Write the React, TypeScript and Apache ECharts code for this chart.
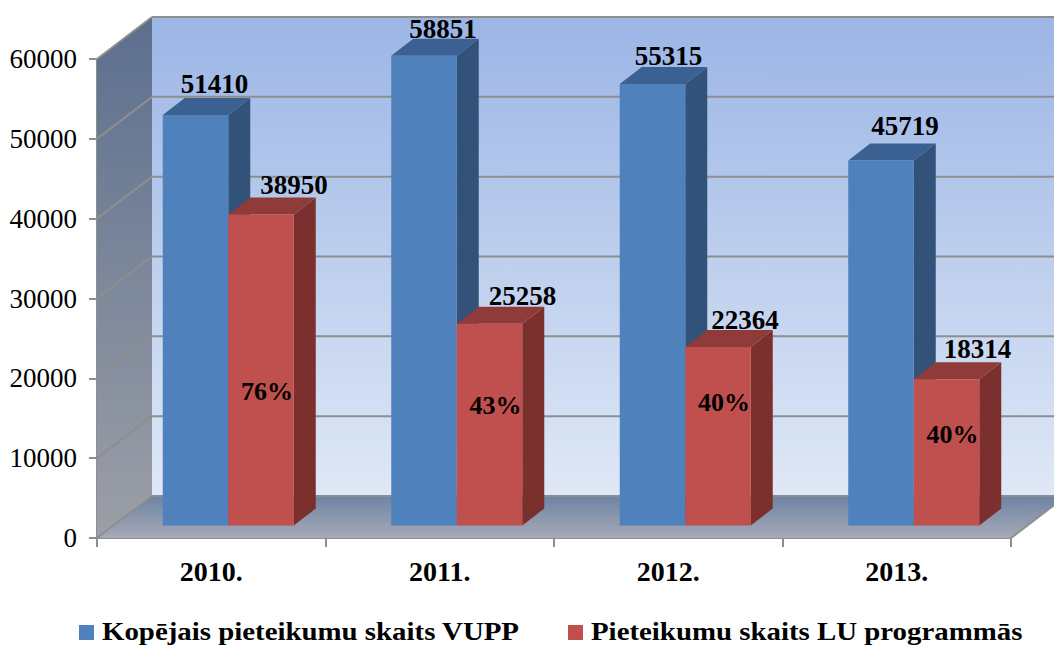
import React, { useEffect, useRef } from "react";
import * as echarts from "echarts";

const categories = ["2010.", "2011.", "2012.", "2013."];
const totalApplications = [51410, 58851, 55315, 45719];
const luApplications = [38950, 25258, 22364, 18314];
const shareLabels = ["76%", "43%", "40%", "40%"];
// Height (in axis units) at which each share label sits inside its bar.
const shareLabelLevels = [16750, 15000, 15375, 11375];
const yTicks = { min: 0, max: 60000, interval: 10000 };
const seriesNames = ["Kopējais pieteikumu skaits VUPP", "Pieteikumu skaits LU programmās"];

const WALL_DX = 55, WALL_DY = -42;
const BAR_DX = 22, BAR_DY = -17;
const FLOOR_DX = 17, FLOOR_DY = -12.5;
const BAR_FRAC = 0.2867;
const SERIF = "'Liberation Serif', serif";
const blue = { front: "#4F81BD", side: "#32527A", top: "#3B6192" };
const red = { front: "#C0504D", side: "#7C302E", top: "#8F3B39" };
const GRID_COLOR = "#8E8E8E";

// Hand-placed value labels in the reference: offset from the top-back of each bar.
const blueNudge = [[19, -14], [19, -10], [16, -11], [24, -18]];
const redNudge = [[33, -13], [33, -11], [27, -10], [31, -13]];

const vertical = (c0: string, c1: string) =>
  new echarts.graphic.LinearGradient(0, 0, 0, 1, [
    { offset: 0, color: c0 },
    { offset: 1, color: c1 },
  ]);

const poly = (points: number[][], fill: any, extra: any = {}) => ({
  type: "polygon",
  shape: { points },
  style: { fill, ...extra },
  silent: true,
});
const line = (x1: number, y1: number, x2: number, y2: number) => ({
  type: "line",
  shape: { x1, y1, x2, y2 },
  style: { stroke: GRID_COLOR, lineWidth: 2, fill: "none" },
  silent: true,
});

const renderWalls = (params: any, api: any) => {
  const cs = params.coordSys;
  const x0 = cs.x, x1 = cs.x + cs.width, yTop = cs.y, yBot = cs.y + cs.height;
  const children: any[] = [
    poly([[x0 + WALL_DX, yTop + WALL_DY], [x1 + WALL_DX, yTop + WALL_DY], [x1 + WALL_DX, yBot + WALL_DY], [x0 + WALL_DX, yBot + WALL_DY]], vertical("#9BB5E5", "#DFE8F6")),
    poly([[x0, yTop], [x0 + WALL_DX, yTop + WALL_DY], [x0 + WALL_DX, yBot + WALL_DY], [x0, yBot]], vertical("#5C6F8E", "#9C9FA7")),
    poly([[x0, yBot], [x0 + WALL_DX, yBot + WALL_DY], [x1 + WALL_DX, yBot + WALL_DY], [x1, yBot]], vertical("#6F83A5", "#A6AAB6")),
  ];
  for (let v = yTicks.min; v <= yTicks.max; v += yTicks.interval) {
    const y = api.coord([0, v])[1];
    children.push(line(x0, y, x0 + WALL_DX, y + WALL_DY));
    children.push(line(x0 + WALL_DX, y + WALL_DY, x1 + WALL_DX, y + WALL_DY));
  }
  children.push(line(x1, yBot, x1 + WALL_DX, yBot + WALL_DY));
  return { type: "group", children };
};

const label = (text: string, x: number, y: number, size: number) => ({
  type: "text",
  x,
  y,
  style: { text, x: 0, y: 0, fill: "#000", font: `bold ${size}px ${SERIF}`, align: "center", verticalAlign: "middle" },
  silent: true,
  z2: 100,
});

const makeBar = (side: -1 | 0, pal: typeof blue, nudge: number[][], shares?: string[]) => (params: any, api: any) => {
  const i = api.value(0);
  const v = api.value(1);
  const band = api.size([1, 0])[0];
  const w = band * BAR_FRAC;
  const center = api.coord([i, 0])[0] + FLOOR_DX;
  const left = center + side * w;
  const right = left + w;
  const bottom = api.coord([i, 0])[1] + FLOOR_DY;
  const top = api.coord([i, v])[1] + FLOOR_DY;
  const children: any[] = [
    poly([[right, top], [right + BAR_DX, top + BAR_DY], [right + BAR_DX, bottom + BAR_DY], [right, bottom]], pal.side),
    poly([[left, top], [left + BAR_DX, top + BAR_DY], [right + BAR_DX, top + BAR_DY], [right, top]], pal.top),
    poly([[left, top], [right, top], [right, bottom], [left, bottom]], pal.front),
    label(String(v), left + w / 2 + nudge[i][0], top + BAR_DY + nudge[i][1], 27),
  ];
  if (shares) {
    const y = api.coord([i, shareLabelLevels[i]])[1] + FLOOR_DY;
    children.push(label(shares[i], left + w / 2 + 6, y, 26));
  }
  return { type: "group", children };
};

const legendEntry = (name: string, color: string, swatchX: number) => [
  { type: "rect", left: swatchX, top: 625, shape: { width: 15, height: 15 }, style: { fill: color } },
  {
    type: "text",
    x: swatchX + 23,
    y: 644,
    scaleX: 1.11,
    style: { text: name, x: 0, y: 0, fill: "#000", font: `bold 26px ${SERIF}`, textAlign: "left", textVerticalAlign: "bottom", verticalAlign: "alphabetic" },
  },
];

export default function App() {
  const ref = useRef<HTMLDivElement>(null);
  useEffect(() => {
    document.body.style.margin = "0";
    document.body.style.overflow = "hidden";
    const chart = echarts.init(ref.current!, undefined, { renderer: "svg" });
    chart.setOption({
      animation: false,
      backgroundColor: "#fff",
      grid: { left: 97, right: 43, top: 59, bottom: 107 },
      graphic: [...legendEntry(seriesNames[0], blue.front, 79), ...legendEntry(seriesNames[1], red.front, 568)],
      xAxis: {
        type: "category",
        data: categories,
        boundaryGap: true,
        axisLine: { lineStyle: { color: GRID_COLOR, width: 2 } },
        axisTick: { show: true, length: 9, lineStyle: { color: GRID_COLOR, width: 2 } },
        axisLabel: { color: "#000", fontFamily: SERIF, fontWeight: "bold", fontSize: 28, margin: 19 },
      },
      yAxis: {
        type: "value",
        min: yTicks.min,
        max: yTicks.max,
        interval: yTicks.interval,
        splitLine: { show: false },
        axisLine: { show: true, lineStyle: { color: GRID_COLOR, width: 2 } },
        axisTick: { show: true, length: 8, lineStyle: { color: GRID_COLOR, width: 2 } },
        axisLabel: { color: "#000", fontFamily: SERIF, fontSize: 27, margin: 20, formatter: (v: number) => String(v) },
      },
      series: [
        {
          type: "custom",
          silent: true,
          clip: false,
          z: 1,
          data: [[0, 0]],
          renderItem: renderWalls,
          encode: { x: 0, y: 1 },
        },
        {
          type: "custom",
          name: seriesNames[0],
          clip: false,
          z: 3,
          data: totalApplications.map((v, i) => [i, v]),
          renderItem: makeBar(-1, blue, blueNudge),
          encode: { x: 0, y: 1 },
        },
        {
          type: "custom",
          name: seriesNames[1],
          clip: false,
          z: 4,
          data: luApplications.map((v, i) => [i, v]),
          renderItem: makeBar(0, red, redNudge, shareLabels),
          encode: { x: 0, y: 1 },
        },
      ],
    });
    return () => chart.dispose();
  }, []);
  return <div ref={ref} style={{ width: 1054, height: 645 }} />;
}
